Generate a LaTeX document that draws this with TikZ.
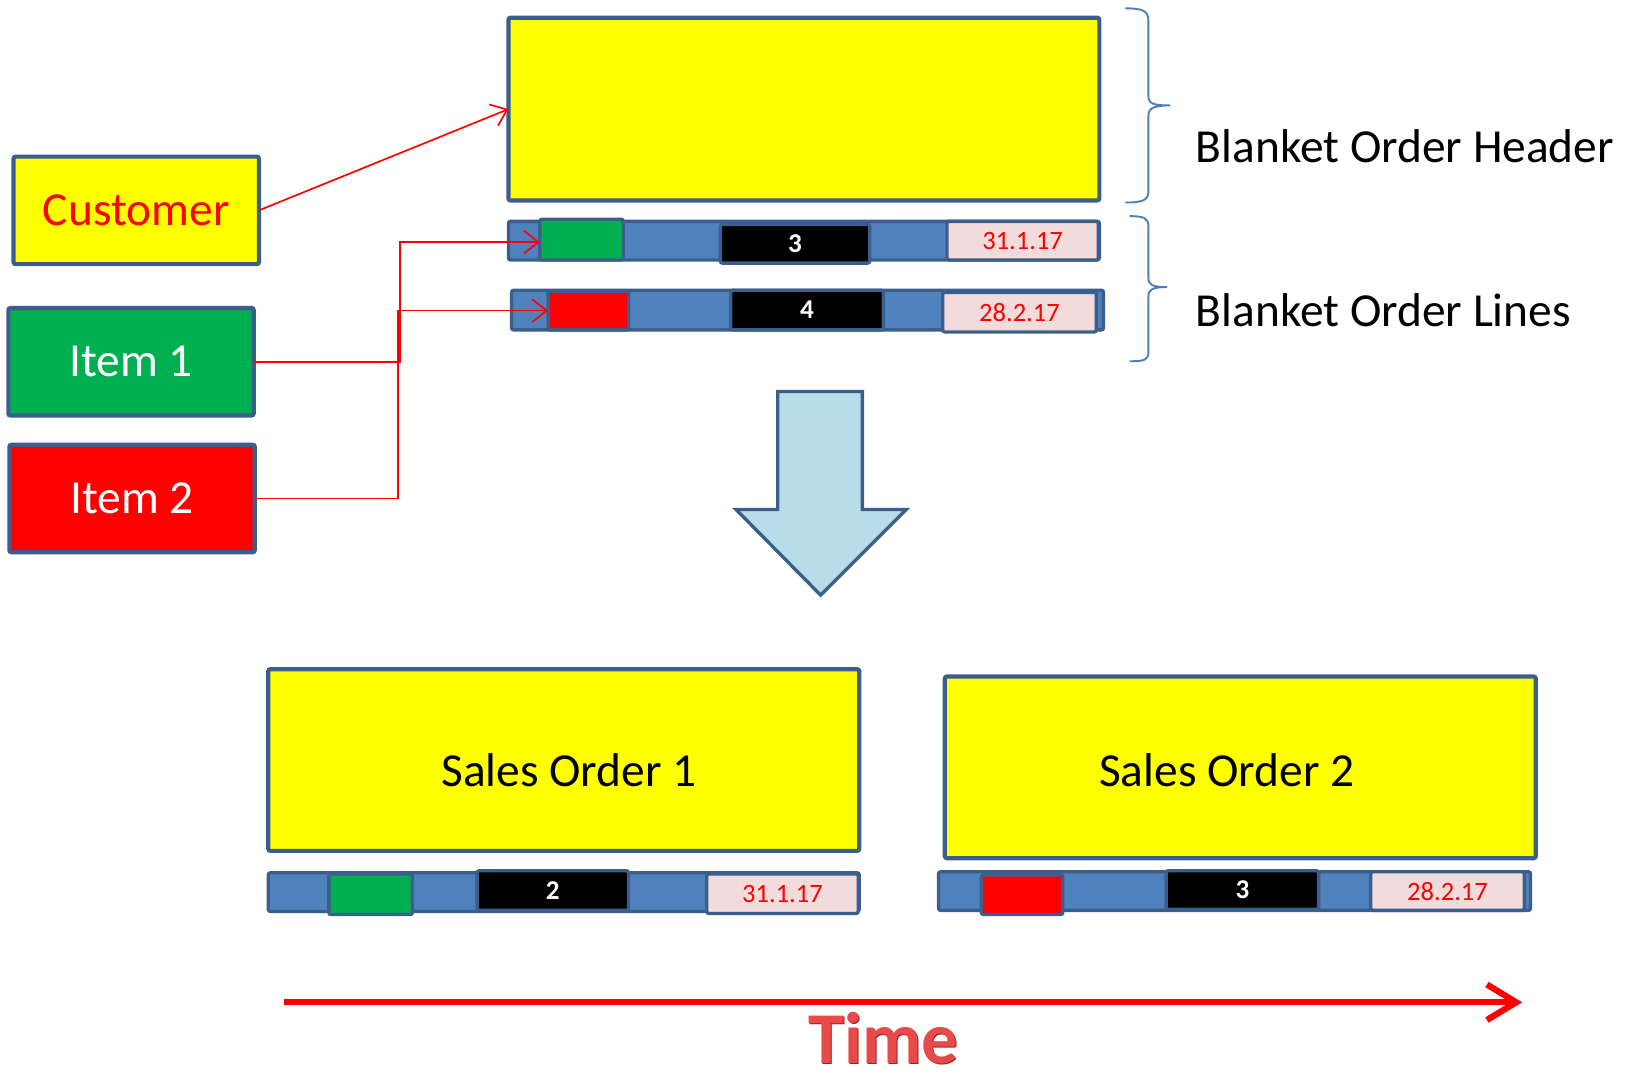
\documentclass[tikz,border=0pt]{standalone}
\usepackage{fontspec}
\setmainfont{Carlito}
\usetikzlibrary{arrows.meta}
\definecolor{bord}{HTML}{3B5E8C}
\definecolor{cellblue}{HTML}{4F81BD}
\definecolor{ygold}{HTML}{FFFF00}
\definecolor{igreen}{HTML}{00B050}
\definecolor{ired}{HTML}{FF0000}
\definecolor{dpink}{HTML}{F2DCDB}
\definecolor{arrowfill}{HTML}{B7DEE8}
\definecolor{bracecol}{HTML}{4A7EBB}
\definecolor{timedark}{HTML}{A02020}
\definecolor{timered}{HTML}{E84A4A}
\tikzset{
  boxst/.style={draw=bord, line width=2pt, rounded corners=1pt, inner sep=0pt, outer sep=0pt},
  barst/.style={draw=bord, line width=1.6pt, fill=cellblue, rounded corners=1pt, inner sep=0pt, outer sep=0pt},
  cellst/.style={draw=bord, line width=1.6pt, rounded corners=1pt, inner sep=0pt, outer sep=0pt},
  bigtxt/.style={font=\fontsize{22.7}{27}\selectfont},
  datetxt/.style={font=\fontsize{12.7}{15}\selectfont, text=ired},
  numtxt/.style={font=\fontsize{13}{15}\selectfont\bfseries, text=white},
  conn/.style={draw=ired, line width=0.8pt, -{Straight Barb[length=7pt, width=11pt, line width=0.8pt]}},
  bracest/.style={draw=bracecol, line width=0.9pt},
}
\newcommand{\cbox}[7]{\node[#6, minimum width={(#4-#2)*0.5pt}, minimum height={(#5-#3)*0.5pt}] (#1) at ({(#2+#4)/2},{(#3+#5)/2}) {#7};}
\begin{document}
\begin{tikzpicture}[x=0.5pt,y=-0.5pt]
\useasboundingbox (0,0) rectangle (1568,1029);
% left boxes
\cbox{cust}{13}{150}{248}{253}{boxst, fill=ygold, text=ired, bigtxt}{Customer}
\cbox{item1}{8}{295}{243}{398}{boxst, fill=igreen, text=white, bigtxt}{Item 1}
\cbox{item2}{9}{426}{244}{529}{boxst, fill=ired, text=white, bigtxt}{Item 2}
% header
\cbox{hdr}{487}{17}{1053}{192}{boxst, fill=ygold}{}
% blanket line 1
\cbox{l1}{487}{212}{1053}{249}{barst}{}
\cbox{g1}{517}{210}{597}{249}{cellst, fill=igreen}{}
\cbox{q1}{690}{215}{833}{252}{cellst, fill=black, numtxt}{3}
\cbox{d1}{907}{212}{1052}{249}{cellst, fill=dpink, datetxt}{31.1.17}
% blanket line 2
\cbox{l2}{490}{278}{1057}{316}{barst}{}
\cbox{r2}{525}{279}{602}{316}{cellst, fill=ired}{}
\cbox{q2}{700}{278}{846}{316}{cellst, fill=black, numtxt}{4}
\cbox{d2}{903}{280}{1050}{318}{cellst, fill=dpink, datetxt}{28.2.17}
% braces and labels
\draw[bracest] (1078,8) .. controls (1094,8) and (1100,10) .. (1100,20) -- (1100,92)
  .. controls (1100,99) and (1104,101) .. (1121,101)
  .. controls (1104,101) and (1100,104) .. (1100,111) -- (1100,183)
  .. controls (1100,192) and (1094,194) .. (1078,194);
\draw[bracest] (1082,207) .. controls (1096,207) and (1100,209) .. (1100,217) -- (1100,266)
  .. controls (1100,273) and (1104,275) .. (1118,275)
  .. controls (1104,275) and (1100,277) .. (1100,284) -- (1100,337)
  .. controls (1100,345) and (1096,346) .. (1082,346);
\node[bigtxt, anchor=west, inner sep=0pt] (lblh) at (1145,140) {Blanket Order Header};
\node[bigtxt, anchor=west, inner sep=0pt] (lbll) at (1145,297) {Blanket Order Lines};
% connectors
\draw[conn] (cust.east) -- (hdr.west);
\draw[conn] (item1.east) -- ++(140,0) |- ([yshift=-1.2pt]g1.west);
\draw[conn] (item2.east) -- ++(137,0) |- (r2.west);
% down arrow
\draw[draw=bord, line width=1.6pt, fill=arrowfill, line join=miter]
  (745,375) -- (826,375) -- (826,488) -- (868,488) -- (786,570) -- (705,488) -- (745,488) -- cycle;
% sales orders
\cbox{so1}{257}{641}{823}{815}{boxst, fill=ygold}{}
\cbox{so2}{905}{648}{1471}{822}{boxst, fill=ygold}{}
\node[bigtxt, inner sep=0pt] (so1t) at (545,738) {Sales Order 1};
\node[bigtxt, inner sep=0pt] (so2t) at (1175,738) {Sales Order 2};
\cbox{l3}{257}{836}{823}{873}{barst}{}
\cbox{g3}{315}{837}{395}{876}{cellst, fill=igreen}{}
\cbox{q3}{457}{834}{602}{872}{cellst, fill=black, numtxt}{2}
\cbox{d3}{677}{837}{822}{875}{cellst, fill=dpink, datetxt}{31.1.17}
\cbox{l4}{899}{835}{1466}{872}{barst}{}
\cbox{r4}{940}{838}{1018}{876}{cellst, fill=ired}{}
\cbox{q4}{1117}{834}{1263}{871}{cellst, fill=black, numtxt}{3}
\cbox{d4}{1313}{835}{1460}{872}{cellst, fill=dpink, datetxt}{28.2.17}
% time axis
\coordinate (t0) at (272,960);
\coordinate (t1) at (1458,960);
\draw[draw=ired, line width=3pt, -{Straight Barb[length=14pt, width=17pt, line width=3pt]}] (t0) -- (t1);
\node[font=\fontsize{35}{40}\selectfont\bfseries, text=timedark, inner sep=0pt] (timesh) at (847.2,995.2) {Time};
\node[font=\fontsize{35}{40}\selectfont\bfseries, text=timered, inner sep=0pt] (time) at (846,994) {Time};
\end{tikzpicture}
\end{document}
